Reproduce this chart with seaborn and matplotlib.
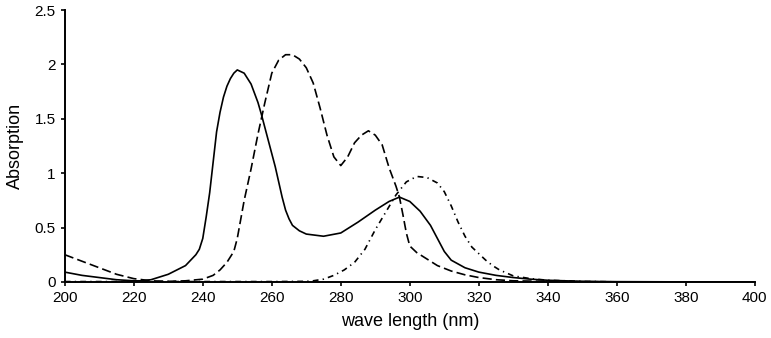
import matplotlib
matplotlib.use("Agg")
import matplotlib.pyplot as plt
import numpy as np
import pandas as pd
import seaborn as sns
from matplotlib.ticker import FuncFormatter, MultipleLocator

# solid curve
wl_solid = [200, 205, 210, 215, 220, 222, 225, 230, 235, 238, 239, 240, 241, 242, 243, 244,
            245, 246, 247, 248, 249, 250, 252, 254, 256, 257, 259, 261, 262, 263, 264, 265,
            266, 268, 270, 275, 280, 285, 290, 294, 297, 300, 303, 306, 308, 310, 312, 316,
            320, 325, 330, 335, 340, 350, 360, 380, 400]
abs_solid = [0.09, 0.06, 0.04, 0.02, 0.01, 0.01, 0.02, 0.07, 0.15, 0.25, 0.30, 0.40, 0.60,
             0.82, 1.10, 1.38, 1.56, 1.70, 1.80, 1.87, 1.92, 1.95, 1.92, 1.82, 1.65, 1.54,
             1.30, 1.06, 0.92, 0.78, 0.66, 0.58, 0.52, 0.47, 0.44, 0.42, 0.45, 0.55, 0.66,
             0.74, 0.78, 0.74, 0.65, 0.52, 0.40, 0.28, 0.20, 0.13, 0.09, 0.06, 0.04, 0.025,
             0.015, 0.005, 0.002, 0.0, 0.0]

# dashed curve
wl_dash = [200, 205, 210, 215, 220, 225, 230, 235, 240, 243, 245, 247, 249, 250, 252, 254,
           256, 258, 260, 262, 264, 266, 268, 270, 272, 274, 276, 278, 280, 282, 284, 286,
           288, 290, 292, 294, 296, 297, 298, 299, 300, 302, 305, 308, 312, 316, 320, 325,
           330, 340, 350, 360, 400]
abs_dash = [0.25, 0.19, 0.13, 0.07, 0.03, 0.01, 0.005, 0.01, 0.025, 0.06, 0.11, 0.18, 0.28,
            0.40, 0.75, 1.04, 1.36, 1.65, 1.92, 2.04, 2.09, 2.09, 2.05, 1.97, 1.83, 1.60,
            1.35, 1.15, 1.07, 1.15, 1.28, 1.35, 1.39, 1.35, 1.26, 1.05, 0.88, 0.78, 0.62,
            0.45, 0.33, 0.27, 0.21, 0.15, 0.10, 0.065, 0.04, 0.02, 0.01, 0.005, 0.002, 0.0, 0.0]

# dash-dot curve
wl_dashdot = [200, 220, 240, 260, 270, 272, 275, 278, 281, 284, 287, 290, 293, 296, 299, 302,
              305, 308, 310, 312, 314, 316, 318, 320, 322, 324, 326, 330, 335, 340, 350, 360, 400]
abs_dashdot = [0.003, 0.003, 0.003, 0.003, 0.005, 0.01, 0.025, 0.06, 0.11, 0.18, 0.30, 0.48,
               0.64, 0.80, 0.92, 0.97, 0.96, 0.91, 0.83, 0.70, 0.55, 0.42, 0.32, 0.26, 0.20,
               0.15, 0.11, 0.055, 0.03, 0.015, 0.005, 0.0, 0.0]

df = pd.concat([
    pd.DataFrame({"wl": wl_solid, "abs": abs_solid, "curve": "a"}),
    pd.DataFrame({"wl": wl_dash, "abs": abs_dash, "curve": "b"}),
    pd.DataFrame({"wl": wl_dashdot, "abs": abs_dashdot, "curve": "c"}),
])

sns.set_style("ticks")
plt.rcParams["font.family"] = ["Liberation Sans", "DejaVu Sans"]

fig = plt.figure(figsize=(7.71, 3.38), dpi=100)
ax = fig.add_axes([0.084, 0.166, 0.895, 0.804])

sns.lineplot(data=df, x="wl", y="abs", hue="curve", style="curve",
             palette={"a": "black", "b": "black", "c": "black"},
             dashes={"a": "", "b": (5.5, 2.5), "c": (3.5, 2.5, 0.8, 2.5)},
             linewidth=1.2, legend=False, ax=ax)

ax.set_xlim(200, 400)
ax.set_ylim(0, 2.5)
ax.xaxis.set_major_locator(MultipleLocator(20))
ax.yaxis.set_major_locator(MultipleLocator(0.5))
ax.yaxis.set_major_formatter(FuncFormatter(lambda v, p: f"{v:g}"))
ax.tick_params(direction="out", length=3, width=1.2, labelsize=11, colors="black")
for s in ["left", "bottom"]:
    ax.spines[s].set_linewidth(1.4)
    ax.spines[s].set_color("black")
sns.despine(ax=ax)
ax.set_xlabel("wave length (nm)", fontsize=13, labelpad=6, color="black")
ax.set_ylabel("Absorption", fontsize=13, labelpad=8, color="black")

fig.savefig("out.png", dpi=100)
